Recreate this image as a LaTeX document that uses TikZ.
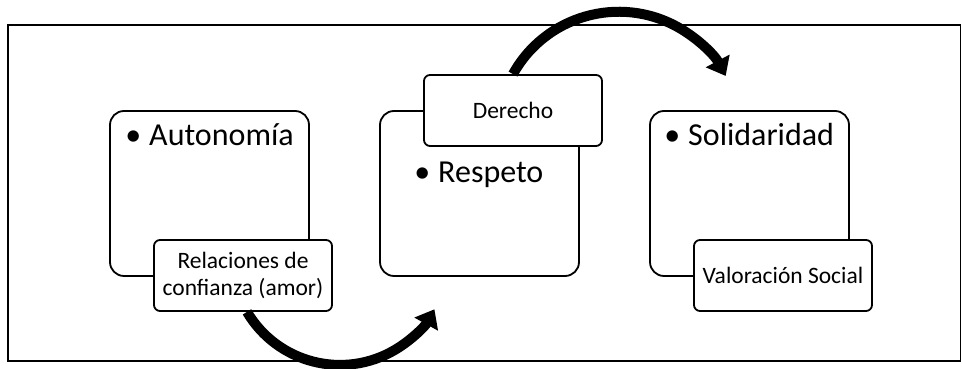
\documentclass[tikz,border=0pt]{standalone}
\usepackage{fontspec}
\setmainfont{Carlito}
\usetikzlibrary{arrows.meta,positioning}

\begin{document}
\begin{tikzpicture}[
  x=1pt, y=1pt,
  bigbox/.style={draw, line width=1.8pt, rounded corners=14pt, minimum width=199pt, minimum height=165pt},
  smallbox/.style={draw, fill=white, line width=1.8pt, rounded corners=6pt, minimum width=178pt, minimum height=71pt, inner sep=2pt, align=center, font=\fontsize{23.5}{27}\selectfont},
  item/.style={anchor=base west, inner sep=0pt, font=\fontsize{32}{36}\selectfont},
  arr/.style={-{Triangle[width=26pt,length=17pt]}, line width=10pt}
]
\useasboundingbox (0,0) rectangle (962,369);
\draw[line width=1.3pt] (8,8) rectangle (960.5,344);

\node[bigbox] (autonomia) at (209.5,175.5) {};
\node[bigbox] (respeto) at (479.5,175.5) {};
\node[bigbox] (solidaridad) at (749.5,175.5) {};

\node[item] (autonomiatxt) at ([xshift=16pt,yshift=-35pt]autonomia.north west) {•\hspace{0.25em}Autonomía};
\node[item] (respetotxt) at ([xshift=35pt,yshift=-72pt]respeto.north west) {•\hspace{0.25em}Respeto};
\node[item] (solidaridadtxt) at ([xshift=15pt,yshift=-35pt]solidaridad.north west) {•\hspace{0.25em}Solidaridad};

\node[smallbox] (confianza) at (243,93.5) {Relaciones de\\confianza (amor)};
\node[smallbox] (derecho) at (513,258.5) {Derecho};
\node[smallbox] (valoracion) at (783,93.5) {Valoración Social};

\draw[arr] ([xshift=4pt]confianza.south) arc[start angle=210.6, end angle=331, radius=108];
\draw[arr] (derecho.north) arc[start angle=151, end angle=28, radius=121];
\end{tikzpicture}
\end{document}
